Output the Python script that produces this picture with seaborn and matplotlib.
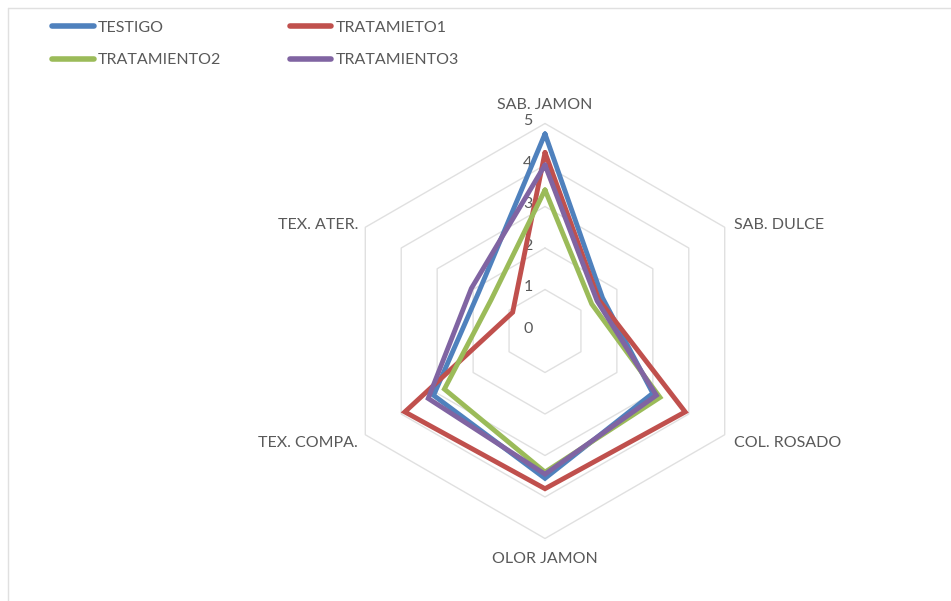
import numpy as np
import pandas as pd
import matplotlib
matplotlib.use("Agg")
import matplotlib.pyplot as plt
import seaborn as sns
from matplotlib.lines import Line2D

CATEGORIES = ["SAB. JAMON", "SAB. DULCE", "COL. ROSADO", "OLOR JAMON", "TEX. COMPA.", "TEX. ATER."]
SERIES = ["TESTIGO", "TRATAMIETO1", "TRATAMIENTO2", "TRATAMIENTO3"]
TESTIGO = [4.75, 1.6, 3.0, 3.55, 3.1, 1.85]
TRATAMIETO1 = [4.3, 1.5, 3.9, 3.8, 3.9, 0.9]
TRATAMIENTO2 = [3.4, 1.3, 3.2, 3.4, 2.8, 1.5]
TRATAMIENTO3 = [4.0, 1.45, 3.1, 3.45, 3.25, 2.05]
RING_TICKS = [0, 1, 2, 3, 4, 5]
COLORS = ["#4F81BD", "#C0504D", "#9BBB59", "#8064A2"]

TEXT = "#595959"
GRID = "#E0E0E0"

# pixel geometry of the reference
W, H = 951, 601
CX, CY, UNIT = 545, 331, 41.5


def main() -> None:
    sns.set_theme(style="white")
    plt.rcParams["font.family"] = ["Lato", "DejaVu Sans"]

    n = len(CATEGORIES)
    ang = np.pi / 2 - np.arange(n) * 2 * np.pi / n  # clockwise from top

    rows = []
    for name, vals in zip(SERIES, [TESTIGO, TRATAMIETO1, TRATAMIENTO2, TRATAMIENTO3]):
        v = list(vals) + [vals[0]]
        a = list(ang) + [ang[0]]
        for i, (r, t) in enumerate(zip(v, a)):
            rows.append({"serie": name, "order": i, "x": r * np.cos(t), "y": r * np.sin(t)})
    df = pd.DataFrame(rows)

    fig = plt.figure(figsize=(W / 100, H / 100), dpi=100)
    ax = fig.add_axes([0, 0, 1, 1])
    ax.set_xlim(-CX / UNIT, (W - CX) / UNIT)
    ax.set_ylim(-(H - CY) / UNIT, CY / UNIT)
    ax.axis("off")

    # hexagonal grid
    ca = np.append(np.cos(ang), np.cos(ang[0]))
    sa = np.append(np.sin(ang), np.sin(ang[0]))
    for r in RING_TICKS[1:]:
        ax.plot(r * ca, r * sa, color=GRID, lw=1.0, zorder=1)

    sns.lineplot(
        data=df, x="x", y="y", hue="serie", hue_order=SERIES,
        palette=COLORS, sort=False, estimator=None, units="serie",
        lw=3.5, legend=False, ax=ax, zorder=3,
    )
    for line in ax.lines[len(RING_TICKS) - 1:]:
        line.set_solid_joinstyle("miter")

    # ring labels along the top axis
    for r in RING_TICKS:
        ax.text(-0.3, r + 0.05, str(r), ha="right", va="center", fontsize=11.5, color=TEXT, zorder=2)

    # category labels
    lab_r = 5.4
    for name, t in zip(CATEGORIES, ang):
        x, y = lab_r * np.cos(t), lab_r * np.sin(t)
        c = np.cos(t)
        if abs(c) < 1e-6:
            ha = "center"
            y = 5.45 if y > 0 else -5.5
        else:
            ha = "left" if c > 0 else "right"
            x = 4.55 if c > 0 else -4.5
            y = 2.55 if y > 0 else -2.7
        ax.text(x, y, name, ha=ha, va="center", fontsize=11.5, color=TEXT)

    # legend filled row by row (ncol=2 fills column-wise)
    order = [0, 2, 1, 3]
    handles = [Line2D([0], [0], color=COLORS[i], lw=4, solid_capstyle="round") for i in order]
    labels = [SERIES[i] for i in order]
    fig.legend(
        handles, labels, loc="upper left", bbox_to_anchor=(38 / W, 1 - 6 / H),
        ncol=2, frameon=False, fontsize=11.5, labelcolor=TEXT,
        handlelength=2.6, handletextpad=0.25, columnspacing=4.3, labelspacing=1.15,
    )

    # chart border (top and left edges visible)
    fig.add_artist(Line2D([8 / W, 1], [1 - 8 / H, 1 - 8 / H], color=GRID, lw=1, transform=fig.transFigure))
    fig.add_artist(Line2D([8 / W, 8 / W], [0, 1 - 8 / H], color=GRID, lw=1, transform=fig.transFigure))

    fig.savefig("out.png", dpi=100, facecolor="white")
    plt.close(fig)


if __name__ == "__main__":
    main()
